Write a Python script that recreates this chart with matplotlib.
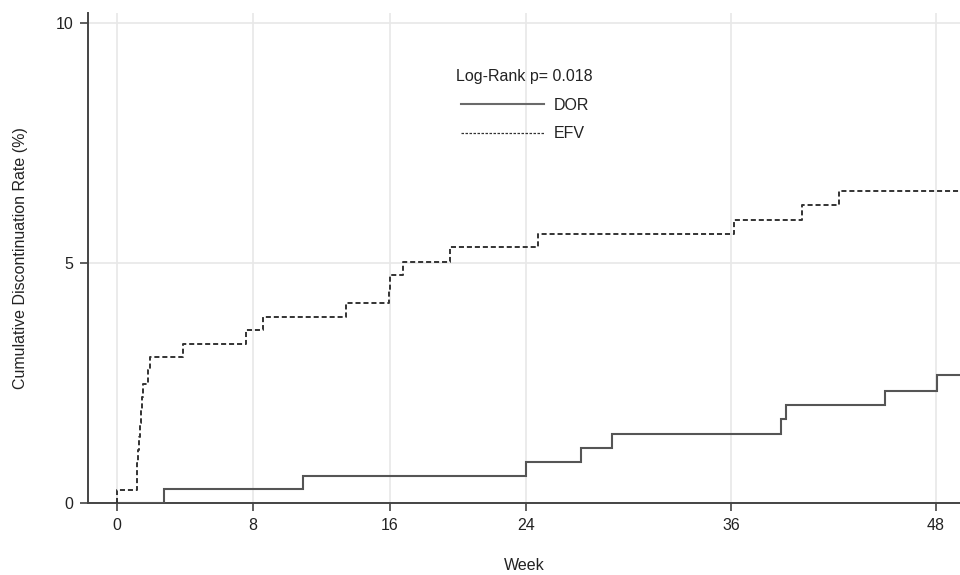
import matplotlib
matplotlib.use('Agg')
import matplotlib.pyplot as plt
from matplotlib import font_manager
from matplotlib.lines import Line2D


# Kaplan-Meier style cumulative discontinuation (%)
efv_weeks = [0, 0, 1.17, 1.22, 1.27, 1.31, 1.36, 1.40, 1.48, 1.56, 1.85, 1.95,
             3.86, 7.57, 8.58, 13.46, 15.96, 16.0, 16.78, 19.51, 24.7,
             36.16, 40.16, 42.3, 49.6]
efv_rate = [0, 0.27, 0.55, 0.82, 1.10, 1.37, 1.65, 1.93, 2.20, 2.48, 2.76, 3.04,
            3.31, 3.59, 3.87, 4.17, 4.45, 4.74, 5.02, 5.32, 5.60,
            5.90, 6.20, 6.50, 6.50]

dor_weeks = [0, 2.78, 10.9, 24.0, 27.2, 29.0, 38.9, 39.2, 45.0, 48.05, 49.6]
dor_rate = [0, 0.28, 0.56, 0.85, 1.13, 1.43, 1.74, 2.04, 2.33, 2.66, 2.66]

x_ticks = [0, 8, 16, 24, 36, 48]
y_ticks = [0, 5, 10]
series_names = ['DOR', 'EFV']
pvalue_text = 'Log-Rank p= 0.018'

names = {f.name for f in font_manager.fontManager.ttflist}
fam = 'Liberation Sans Narrow' if 'Liberation Sans Narrow' in names else 'Liberation Sans'
plt.rcParams['font.family'] = [fam, 'DejaVu Sans']
fs = 11.5

fig = plt.figure(figsize=(9.6, 5.75), dpi=100)
ax = fig.add_axes([0.092, 0.126, 0.908, 0.851])

ax.step(dor_weeks, dor_rate, where='post', color='#555555', linewidth=1.5,
        solid_joinstyle='miter', zorder=3)
ax.step(efv_weeks, efv_rate, where='post', color='#333333', linewidth=1.4,
        linestyle=(0, (2.6, 1.5)), zorder=3)

ax.set_xlim(-1.66, 49.4)
ax.set_ylim(0, 10.2)
ax.set_xticks(x_ticks)
ax.set_yticks(y_ticks)
ax.grid(True, color='#e8e8e8', linewidth=1.2)
ax.set_axisbelow(True)

for s in ['top', 'right']:
    ax.spines[s].set_visible(False)
for s in ['left', 'bottom']:
    ax.spines[s].set_color('#444444')
    ax.spines[s].set_linewidth(1.4)

ax.tick_params(axis='both', colors='#444444', labelcolor='#222222',
               length=6, width=1.2, labelsize=fs, pad=5)

ax.set_xlabel('Week', fontsize=fs, color='#222222', labelpad=18)
ax.set_ylabel('Cumulative Discontinuation Rate (%)', fontsize=fs,
              color='#222222', labelpad=20)

handles = [Line2D([], [], color='#6a6a6a', linewidth=1.5),
           Line2D([], [], color='#333333', linewidth=0.9, linestyle=(0, (2, 1.2)))]
leg = ax.legend(handles, series_names, title=pvalue_text, loc='upper left',
                bbox_to_anchor=(0.413, 0.902), frameon=False, fontsize=fs,
                title_fontsize=fs, handlelength=5.2, handletextpad=0.6,
                labelspacing=0.85, borderpad=0)
leg.get_title().set_color('#222222')
for t in leg.get_texts():
    t.set_color('#222222')

fig.savefig('out.png', dpi=100)
